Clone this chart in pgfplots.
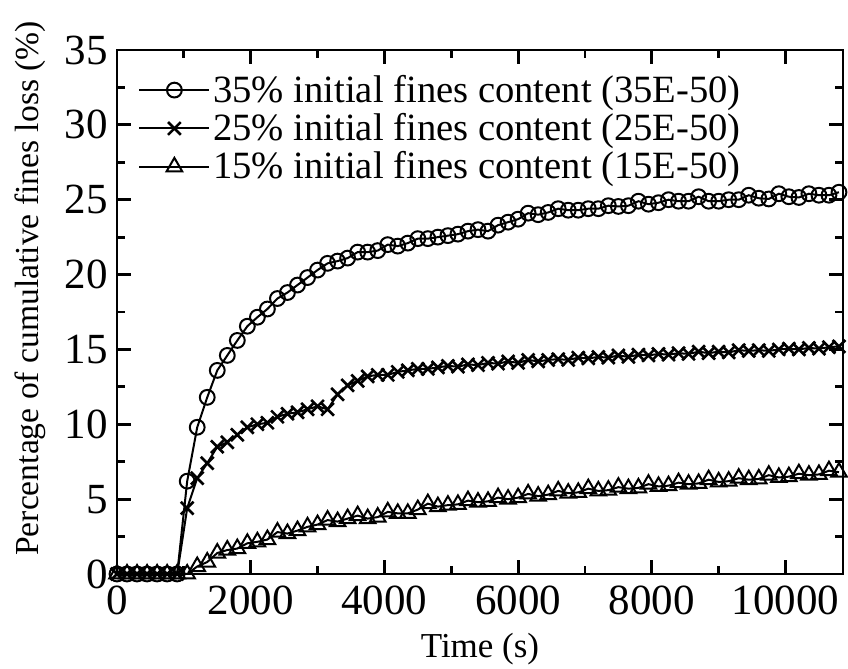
\documentclass[border=0pt]{standalone}
\usepackage{pgfplots}
\pgfplotsset{compat=1.18}
\usepackage{fontspec}
\setmainfont{Liberation Serif}
\begin{document}
\begin{tikzpicture}
\begin{axis}[
  scale only axis, width=363pt, height=262pt,
  xmin=0, xmax=10860, ymin=0, ymax=35,
  xtick={0,2000,...,10000}, ytick={0,5,...,35},
  scaled x ticks=false, scaled y ticks=false,
  minor x tick num=1, minor y tick num=1,
  tick align=inside, major tick length=7pt, minor tick length=4pt,
  axis line style={line width=1.4pt},
  every tick/.style={line width=1.4pt, black},
  /pgf/number format/assume math mode=true,
  /pgf/number format/1000 sep={},
  tick label style={font=\fontsize{21.5}{21.5}\selectfont},
  xticklabel style={anchor=base, yshift=-20.5pt, inner sep=0pt},
  yticklabel style={anchor=east, inner xsep=0pt, xshift=-4.5pt},
  xlabel={Time (s)},
  ylabel={Percentage of cumulative fines loss (\%)},
  xlabel style={font=\fontsize{17.5}{17.5}\selectfont, at={(axis description cs:0.5,0)}, anchor=base, yshift=-42pt, inner sep=0pt},
  ylabel style={font=\fontsize{16.8}{16.8}\selectfont, at={(axis description cs:-0.1198,0.545)}, anchor=center},
  clip=false,
  legend style={draw=none, fill=none, inner sep=0pt, at={(rel axis cs:0,1)}, anchor=north west,
    xshift=10.5pt, yshift=-12.3pt, row sep=4.1pt, column sep=1.5pt,
    nodes={inner sep=0pt}, font=\fontsize{19.3}{19.3}\selectfont},
  legend cell align=left,
  legend image code/.code={\draw[mark repeat=2,mark phase=2,#1] plot coordinates {(0pt,0pt) (17.5pt,0pt) (35pt,0pt)};},
  every axis plot/.append style={black, line width=1pt, mark options={solid, fill=white, line width=1pt}},
]
\addplot[mark=o, mark size=3.7pt, mark options={fill=white}] coordinates {
(0,0) (150,0) (300,0) (450,0) (600,0) (750,0) (900,0)
(1050,6.2) (1200,9.8) (1350,11.8) (1500,13.6) (1650,14.6) (1800,15.6) (1950,16.55)
(2100,17.15) (2250,17.7) (2400,18.4) (2550,18.8) (2700,19.3) (2850,19.8) (3000,20.3)
(3150,20.75) (3300,20.9) (3450,21.1) (3600,21.5) (3750,21.5) (3900,21.6) (4050,22.0)
(4200,21.9) (4350,22.1) (4500,22.4) (4650,22.4) (4800,22.5) (4950,22.6) (5100,22.7)
(5250,22.9) (5400,23.0) (5550,22.9) (5700,23.3) (5850,23.5) (6000,23.7) (6150,24.1)
(6300,24.0) (6450,24.15) (6600,24.4) (6750,24.3) (6900,24.3) (7050,24.4) (7200,24.4)
(7350,24.6) (7500,24.55) (7650,24.6) (7800,24.9) (7950,24.7) (8100,24.8) (8250,25.0)
(8400,24.9) (8550,24.9) (8700,25.2) (8850,24.9) (9000,24.9) (9150,25.0) (9300,25.0)
(9450,25.3) (9600,25.1) (9750,25.05) (9900,25.4) (10050,25.2) (10200,25.15) (10350,25.4)
(10500,25.3) (10650,25.3) (10800,25.5)
};
\addlegendentry{35\% initial fines content (35E-50)}
\addplot[mark=x, mark size=4.5pt, mark options={line width=1.3pt}] coordinates {
(0,0) (150,0) (300,0) (450,0) (600,0) (750,0) (900,0)
(1050,4.4) (1200,6.4) (1350,7.4) (1500,8.5) (1650,8.8) (1800,9.3) (1950,9.8)
(2100,10.0) (2250,10.1) (2400,10.5) (2550,10.7) (2700,10.8) (2850,11.0) (3000,11.2)
(3150,11.0) (3300,12.0) (3450,12.6) (3600,12.9) (3750,13.2) (3900,13.3) (4050,13.3)
(4200,13.5) (4350,13.6) (4500,13.7) (4650,13.7) (4800,13.8) (4950,13.9) (5100,13.85)
(5250,14.0) (5400,13.95) (5550,14.1) (5700,14.05) (5850,14.2) (6000,14.1) (6150,14.3)
(6300,14.2) (6450,14.3) (6600,14.35) (6750,14.3) (6900,14.45) (7050,14.4) (7200,14.5)
(7350,14.45) (7500,14.6) (7650,14.5) (7800,14.65) (7950,14.6) (8100,14.7) (8250,14.65)
(8400,14.75) (8550,14.7) (8700,14.85) (8850,14.75) (9000,14.85) (9150,14.8) (9300,14.95)
(9450,14.9) (9600,14.95) (9750,14.9) (9900,15.0) (10050,15.05) (10200,15.0) (10350,15.1)
(10500,15.05) (10650,15.15) (10800,15.2)
};
\addlegendentry{25\% initial fines content (25E-50)}
\addplot[mark=triangle, mark size=4.5pt, mark options={fill=white}] coordinates {
(0,0) (150,0) (300,0) (450,0) (600,0) (750,0) (900,0)
(1050,0.0) (1200,0.5) (1350,0.8) (1500,1.4) (1650,1.6) (1800,1.7) (1950,2.05)
(2100,2.15) (2250,2.3) (2400,2.8) (2550,2.7) (2700,2.9) (2850,3.15) (3000,3.3)
(3150,3.6) (3300,3.5) (3450,3.7) (3600,3.9) (3750,3.7) (3900,3.8) (4050,4.15)
(4200,4.05) (4350,4.05) (4500,4.3) (4650,4.7) (4800,4.5) (4950,4.6) (5100,4.65)
(5250,4.9) (5400,4.8) (5550,4.85) (5700,5.1) (5850,5.0) (6000,5.1) (6150,5.35)
(6300,5.2) (6450,5.3) (6600,5.55) (6750,5.4) (6900,5.45) (7050,5.7) (7200,5.55)
(7350,5.6) (7500,5.8) (7650,5.7) (7800,5.75) (7950,6.0) (8100,5.85) (8250,5.9)
(8400,6.1) (8550,6.0) (8700,6.05) (8850,6.3) (9000,6.15) (9150,6.2) (9300,6.4)
(9450,6.3) (9600,6.35) (9750,6.6) (9900,6.45) (10050,6.5) (10200,6.7) (10350,6.6)
(10500,6.65) (10650,6.9) (10800,6.8)
};
\addlegendentry{15\% initial fines content (15E-50)}
\path (rel axis cs:0,0) ++(-58.5pt,-47.5pt) coordinate (bbA);
\path (rel axis cs:1,1) ++(2.5pt,25pt) coordinate (bbB);
\end{axis}
\path (bbA) (bbB);
\end{tikzpicture}
\end{document}
